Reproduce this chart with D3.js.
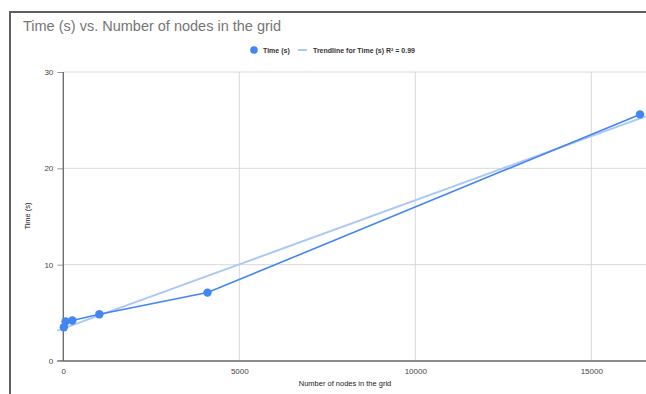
<!DOCTYPE html>
<html><head><meta charset="utf-8">
<script src="https://cdn.jsdelivr.net/npm/d3@7"></script>
<style>body{margin:0;background:#fff;}svg{display:block;font-family:Arial,"Liberation Sans",sans-serif;}</style>
</head><body>
<svg id="c" width="646" height="394"></svg>
<script>
const nodes = [16, 64, 256, 1024, 4096, 16384];
const times = [3.5, 4.1, 4.2, 4.85, 7.1, 25.6];
const xTicks = [0, 5000, 10000, 15000];
const yTicks = [0, 10, 20, 30];

const svg = d3.select("#c");
const x = d3.scaleLinear().domain([0, 16384]).range([63.3, 640]);
const y = d3.scaleLinear().domain([0, 30]).range([361, 72]);

// frame
svg.append("rect").attr("x", 10).attr("y", 12).attr("width", 700).attr("height", 500)
  .attr("fill", "none").attr("stroke", "#5f5f5f").attr("stroke-width", 2);

svg.append("text").attr("x", 23).attr("y", 31).attr("font-size", 14.5).attr("fill", "#757575")
  .text("Time (s) vs. Number of nodes in the grid");

// grid
svg.append("g").selectAll("line").data(xTicks.filter(d => d > 0)).join("line")
  .attr("x1", d => x(d)).attr("x2", d => x(d)).attr("y1", y(30)).attr("y2", y(0))
  .attr("stroke", "#d9d9d9").attr("stroke-width", 1);
svg.append("g").selectAll("line").data(yTicks.filter(d => d > 0)).join("line")
  .attr("x1", x(0)).attr("x2", 646).attr("y1", d => y(d)).attr("y2", d => y(d))
  .attr("stroke", "#d9d9d9").attr("stroke-width", 1);

// axes
const xAxis = svg.append("g").attr("transform", `translate(0,${y(0)})`)
  .call(d3.axisBottom(x).tickValues(xTicks).tickSize(0).tickPadding(7).tickFormat(d3.format("d")));
xAxis.select(".domain").remove();
svg.append("line").attr("x1", x(0) - 6).attr("x2", 646).attr("y1", y(0)).attr("y2", y(0))
  .attr("stroke", "#666").attr("stroke-width", 1.3);
const yAxis = svg.append("g").attr("transform", `translate(${x(0)},0)`)
  .call(d3.axisLeft(y).tickValues(yTicks).tickSize(6).tickPadding(4));
yAxis.select(".domain").remove();
yAxis.selectAll(".tick line").attr("stroke", "#999");
svg.append("line").attr("x1", x(0)).attr("x2", x(0)).attr("y1", y(30)).attr("y2", y(0))
  .attr("stroke", "#666").attr("stroke-width", 1.3);
svg.selectAll(".tick text").attr("font-size", 8).attr("fill", "#444").attr("font-family", "Arial,'Liberation Sans',sans-serif");

// axis titles
svg.append("text").attr("x", 345).attr("y", 386).attr("text-anchor", "middle")
  .attr("font-size", 7.5).attr("fill", "#222").text("Number of nodes in the grid");
svg.append("text").attr("transform", "translate(30,216) rotate(-90)").attr("text-anchor", "middle")
  .attr("font-size", 7.5).attr("fill", "#222").text("Time (s)");

// trendline (least squares)
const mx = d3.mean(nodes), my = d3.mean(times);
const slope = d3.sum(nodes, (d, i) => (d - mx) * (times[i] - my)) / d3.sum(nodes, d => (d - mx) ** 2);
const icpt = my - slope * mx;
const tx = [-170, 16384 + 160];
svg.append("line").attr("x1", x(tx[0])).attr("x2", x(tx[1]))
  .attr("y1", y(icpt + slope * tx[0])).attr("y2", y(icpt + slope * tx[1]))
  .attr("stroke", "#a9c8f6").attr("stroke-width", 2);

// data line
svg.append("path").datum(nodes.map((d, i) => [d, times[i]]))
  .attr("d", d3.line().x(d => x(d[0])).y(d => y(d[1])))
  .attr("fill", "none").attr("stroke", "#4285f4").attr("stroke-width", 1.6);
svg.append("g").selectAll("circle").data(nodes).join("circle")
  .attr("cx", d => x(d)).attr("cy", (d, i) => y(times[i])).attr("r", 4.2).attr("fill", "#4285f4");

// legend
const lg = svg.append("g").attr("font-size", 7).attr("font-weight", "bold").attr("fill", "#333");
lg.append("circle").attr("cx", 254).attr("cy", 50).attr("r", 3.8).attr("fill", "#4285f4");
lg.append("text").attr("x", 263).attr("y", 52.5).text("Time (s)");
lg.append("line").attr("x1", 298).attr("x2", 307).attr("y1", 50).attr("y2", 50).attr("stroke", "#a9c8f6").attr("stroke-width", 2);
lg.append("text").attr("x", 313).attr("y", 52.5).text("Trendline for Time (s) R² = 0.99");
</script>
</body></html>
